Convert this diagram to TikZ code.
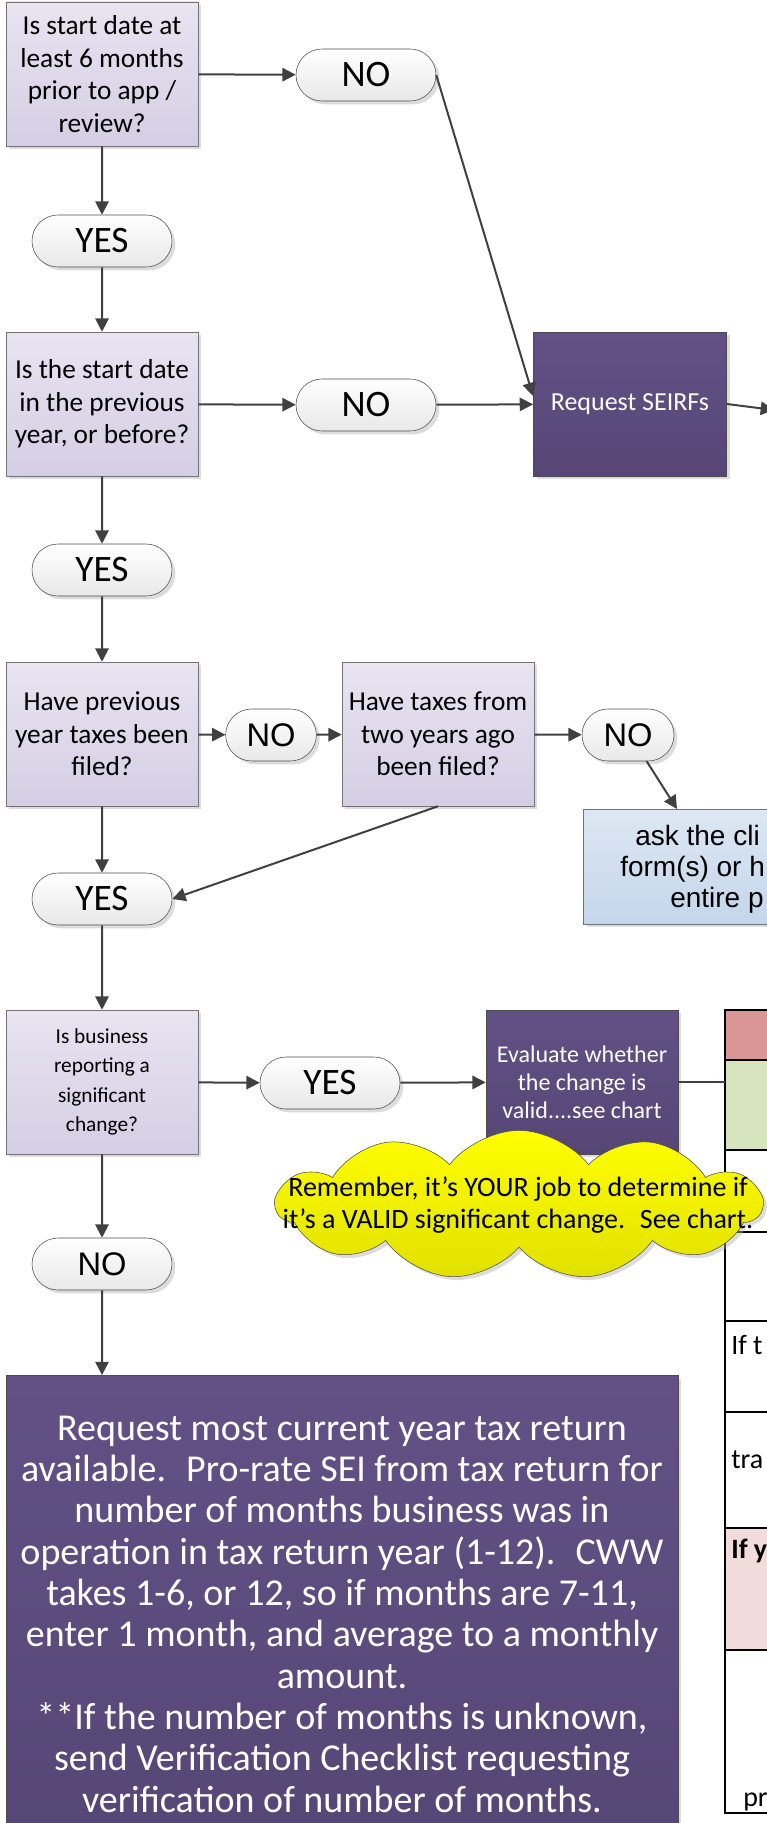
\documentclass[tikz,border=0pt]{standalone}
\usepackage{fontspec}
\setmainfont{Carlito}
\newfontfamily\arialfont{Liberation Sans}
\usetikzlibrary{arrows.meta,shapes.misc,shapes.symbols,shadows}

\definecolor{qtop}{RGB}{232,228,240}
\definecolor{qbot}{RGB}{213,206,228}
\definecolor{ptop}{RGB}{99,81,134}
\definecolor{pbot}{RGB}{86,70,117}
\definecolor{btop}{RGB}{221,231,243}
\definecolor{bbot}{RGB}{196,214,235}
\definecolor{lnk}{RGB}{64,64,64}
\definecolor{chred}{RGB}{217,150,148}
\definecolor{chgreen}{RGB}{215,228,189}
\definecolor{chpink}{RGB}{242,220,219}

\begin{document}
\begin{tikzpicture}[x=0.75pt,y=-0.75pt]
\tikzstyle{shad} = [drop shadow={shadow xshift=2.5pt,shadow yshift=-2.5pt,fill=black!30,opacity=.45}]
\tikzstyle{quest} = [draw=black!55,top color=qtop,bottom color=qbot,minimum width=144pt,minimum height=108pt,inner sep=2pt,align=center,font=\fontsize{20.5}{24.5}\selectfont,shad]
\tikzstyle{term} = [rounded rectangle,draw=black!70,top color=white,bottom color=black!9,minimum width=107pt,minimum height=39pt,inner sep=1pt,font=\fontsize{28}{30}\selectfont,shad]
\tikzstyle{arialno} = [font=\arialfont\fontsize{24.5}{28}\selectfont]
\tikzstyle{act} = [draw=black!70,top color=ptop,bottom color=pbot,text=white,minimum width=144pt,minimum height=108pt,inner sep=2pt,align=center,shad]
\tikzstyle{arr} = [draw=lnk,line width=1.5pt,-{Triangle[length=10pt,width=10pt]}]
\tikzstyle{chtxt} = [anchor=base west,inner sep=0pt,font=\fontsize{21}{24}\selectfont]

\path[use as bounding box,clip] (0,0) rectangle (767,1823);

%%%%%% Chart (cut at the edge)
\fill[chred] (725,1010) rectangle (800,1060);
\fill[chgreen] (725,1060) rectangle (800,1150);
\fill[chpink] (725,1528) rectangle (800,1650);
\draw[line width=1.6pt] (800,1010) -- (725,1010) -- (725,1813) -- (800,1813);
\foreach \y in {1060,1150,1232,1321,1412,1528,1650}
  \draw[line width=1.6pt] (725,\y) -- (800,\y);
\node[chtxt] (rowA) at (731,1354) {If t};
\node[chtxt] (rowB) at (731,1468) {tra};
\node[chtxt,font=\bfseries\fontsize{21}{24}\selectfont] (rowC) at (731,1558) {If y};
\node[chtxt] (rowD) at (743,1806) {pr};
\coordinate (chart) at (725,1082);

%%%%%% Left column
\node[quest] (startq) at (102,74) {Is start date at\\least 6 months\\prior to app /\\review?};
\node[term] (yesA) at (102,241) {YES};
\node[quest] (prevq) at (102,404) {Is the start date\\in the previous\\year, or before?};
\node[term] (yesB) at (102,570) {YES};
\node[quest] (filedq) at (102,734) {Have previous\\year taxes been\\filed?};
\node[term] (yesC) at (102,899) {YES};
\node[quest,font=\fontsize{16}{22}\selectfont] (changeq) at (102,1082) {Is business\\reporting a\\significant\\change?};
\node[term,arialno] (noE) at (102,1264) {NO};

%%%%%% NO / SEIRFs
\node[term] (noA) at (366,75) {NO};
\node[term] (noB) at (366,405) {NO};
\node[act,minimum width=145pt,font=\fontsize{19.5}{23}\selectfont] (seirf) at (630,404) {Request SEIRFs};
\coordinate (offA) at (774,410);

%%%%%% Taxes filed
\node[term,arialno,minimum width=70pt] (noC) at (271,735) {NO};
\node[quest] (twoq) at (438,734) {Have taxes from\\two years ago\\been filed?};
\node[term,arialno,minimum width=71pt] (noD) at (628,735) {NO};
\node[draw=black!55,top color=btop,bottom color=bbot,anchor=north west,minimum width=300pt,minimum height=86pt,shad] (ask) at (583,809) {};
\node[anchor=base west,inner sep=0pt,font=\arialfont\fontsize{21}{24}\selectfont] (askA) at (635,845) {ask the cli};
\node[anchor=base west,inner sep=0pt,font=\arialfont\fontsize{21}{24}\selectfont] (askB) at (620,876) {form(s) or h};
\node[anchor=base west,inner sep=0pt,font=\arialfont\fontsize{21}{24}\selectfont] (askC) at (670,907) {entire p};

%%%%%% Significant change
\node[term] (yesD) at (330,1083) {YES};
\node[act,font=\fontsize{18}{21}\selectfont] (evalq) at (582,1082) {Evaluate whether\\the change is\\valid....see chart};
\node[act,minimum width=504pt,minimum height=358pt,font=\fontsize{28.5}{31}\selectfont] (prorate) at (342,1614) {Request most current year tax return\\available.~ Pro-rate SEI from tax return for\\number of months business was in\\operation in tax return year (1-12).~ CWW\\takes 1-6, or 12, so if months are 7-11,\\enter 1 month, and average to a monthly\\amount.\\**If the number of months is unknown,\\send Verification Checklist requesting\\verification of number of months.};

%%%%%% Arrows
\draw[arr] (startq) -- (noA);
\draw[arr] (startq) -- (yesA);
\draw[arr] (noA.east) -- ([yshift=6pt]seirf.west);
\draw[arr] (yesA) -- (prevq);
\draw[arr] (prevq) -- (noB);
\draw[arr] (noB) -- (seirf);
\draw[arr] (seirf.east) -- (offA);
\draw[arr] (prevq) -- (yesB);
\draw[arr] (yesB) -- (filedq);
\draw[arr] (filedq) -- (noC);
\draw[arr] (noC) -- (twoq);
\draw[arr] (twoq) -- (noD);
\draw[arr] ([xshift=14pt]noD.south) -- ([xshift=70.5pt]ask.north west);
\draw[arr] (twoq.south) -- (yesC.east);
\draw[arr] (filedq) -- (yesC);
\draw[arr] (yesC) -- (changeq);
\draw[arr] (changeq) -- (yesD);
\draw[arr] (yesD) -- (evalq);
\draw[draw=lnk,line width=1.5pt] (evalq.east) -- (chart);
\draw[arr] (changeq) -- (noE);
\draw[arr] (noE) -- (noE |- prorate.north);

%%%%%% Reminder cloud
\node[cloud,cloud puffs=11,cloud puff arc=105,aspect=3.3,draw=black!70,top color=yellow,bottom color=yellow!88!black,minimum width=364pt,minimum height=112pt,inner sep=0pt,shad] (remind) at (519,1205) {};
\node[align=center,inner sep=0pt,font=\fontsize{21}{23.5}\selectfont] (remtxt) at (518,1205) {Remember, it’s YOUR job to determine if\\it’s a VALID significant change.~ See chart.};
\end{tikzpicture}
\end{document}
